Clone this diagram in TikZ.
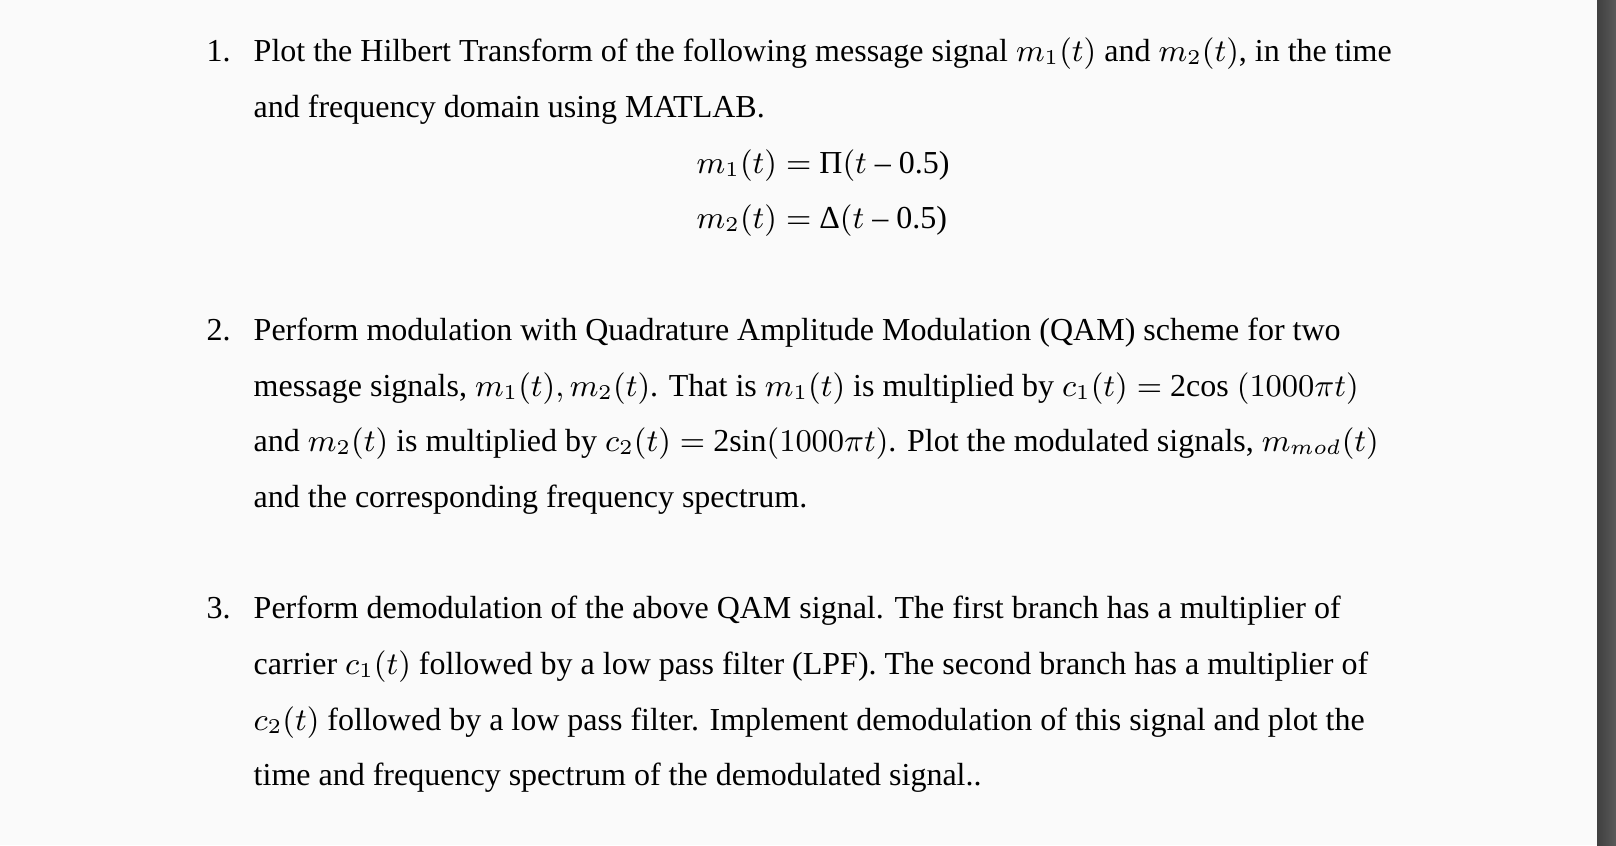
\documentclass[tikz,border=0pt]{standalone}
\usepackage{fontspec}
\setmainfont{Liberation Serif}
\newcommand{\mi}[1]{$m_{#1}(t)$}
\newcommand{\ci}[1]{$c_{#1}(t)$}
\begin{document}
\begin{tikzpicture}[x=0.01cm,y=-0.01cm,
  txt/.style={anchor=base west,inner sep=0pt,font=\fontsize{9.1pt}{11pt}\selectfont},
  num/.style={txt}]
  \useasboundingbox (0,0) rectangle (1616,845);
  \fill[white!98!black] (0,0) rectangle (1597,845);
  \shade[left color=black!75,right color=black!65] (1597,0) rectangle (1616,845);
  % item 1
  \node[num] (n1) at (206,61) {1.};
  \node[txt] (a1) at (253,61) {Plot the Hilbert Transform of the following message signal \mi{1} and \mi{2}, in the time};
  \node[txt] (a2) at (253,117) {and frequency domain using MATLAB.};
  \node[txt] (e1) at (696,173) {$m_1(t) =$ Π$(t$ – 0.5)};
  \node[txt] (e2) at (696,228) {$m_2(t) =$ Δ$(t$ – 0.5)};
  % item 2
  \node[num] (n2) at (206,340) {2.};
  \node[txt] (b1) at (253,340) {Perform modulation with Quadrature Amplitude Modulation (QAM) scheme for two};
  \node[txt] (b2) at (253,396) {message signals, $m_1(t), m_2(t)$. That is \mi{1} is multiplied by $c_1(t) =$ 2cos $(1000\pi t)$};
  \node[txt] (b3) at (253,451) {and \mi{2} is multiplied by $c_2(t) =$ 2sin$(1000\pi t)$. Plot the modulated signals, $m_{mod}(t)$};
  \node[txt] (b4) at (253,507) {and the corresponding frequency spectrum.};
  % item 3
  \node[num] (n3) at (206,618) {3.};
  \node[txt] (c1) at (253,618) {Perform demodulation of the above QAM signal. The first branch has a multiplier of};
  \node[txt] (c2) at (253,674) {carrier \ci{1} followed by a low pass filter (LPF). The second branch has a multiplier of};
  \node[txt] (c3) at (253,730) {\ci{2} followed by a low pass filter. Implement demodulation of this signal and plot the};
  \node[txt] (c4) at (253,785) {time and frequency spectrum of the demodulated signal..};
\end{tikzpicture}
\end{document}
